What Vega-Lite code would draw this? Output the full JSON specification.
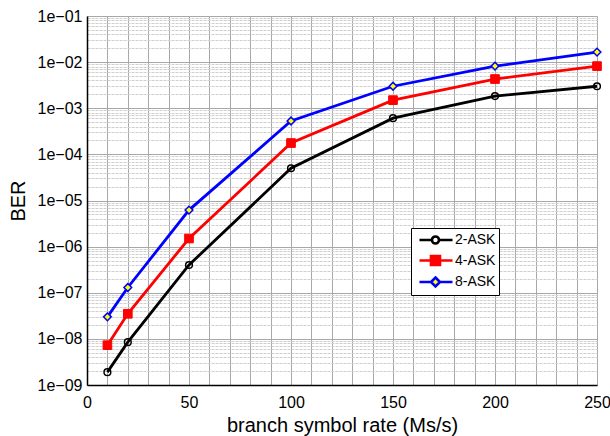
{
  "$schema": "https://vega.github.io/schema/vega-lite/v6.json",
  "width": 510,
  "height": 369,
  "autosize": {"type": "none"},
  "padding": {"left": 87, "top": 16, "right": 13, "bottom": 51},
  "background": "white",
  "config": {
    "font": "Liberation Sans",
    "view": {"stroke": null},
    "axis": {"labelFont": "Liberation Sans", "titleFont": "Liberation Sans", "labelColor": "black", "titleColor": "black", "titleFontWeight": "normal", "domainColor": "black", "domainWidth": 1.5, "ticks": false, "labelFlush": false}
  },
  "data": {
    "values": [
      {"rate": 10, "ber": 1.9e-9, "mod": "2-ASK"},
      {"rate": 20, "ber": 8.5e-9, "mod": "2-ASK"},
      {"rate": 50, "ber": 4.0e-7, "mod": "2-ASK"},
      {"rate": 100, "ber": 5.0e-5, "mod": "2-ASK"},
      {"rate": 150, "ber": 6.1e-4, "mod": "2-ASK"},
      {"rate": 200, "ber": 1.84e-3, "mod": "2-ASK"},
      {"rate": 250, "ber": 3.0e-3, "mod": "2-ASK"},
      {"rate": 10, "ber": 7.3e-9, "mod": "4-ASK"},
      {"rate": 20, "ber": 3.5e-8, "mod": "4-ASK"},
      {"rate": 50, "ber": 1.5e-6, "mod": "4-ASK"},
      {"rate": 100, "ber": 1.76e-4, "mod": "4-ASK"},
      {"rate": 150, "ber": 1.5e-3, "mod": "4-ASK"},
      {"rate": 200, "ber": 4.3e-3, "mod": "4-ASK"},
      {"rate": 250, "ber": 8.2e-3, "mod": "4-ASK"},
      {"rate": 10, "ber": 3.0e-8, "mod": "8-ASK"},
      {"rate": 20, "ber": 1.3e-7, "mod": "8-ASK"},
      {"rate": 50, "ber": 6.2e-6, "mod": "8-ASK"},
      {"rate": 100, "ber": 5.3e-4, "mod": "8-ASK"},
      {"rate": 150, "ber": 3.0e-3, "mod": "8-ASK"},
      {"rate": 200, "ber": 8.2e-3, "mod": "8-ASK"},
      {"rate": 250, "ber": 1.65e-2, "mod": "8-ASK"}
    ]
  },
  "encoding": {
    "x": {
      "field": "rate", "type": "quantitative",
      "scale": {"domain": [0, 250], "nice": false, "zero": false},
      "axis": {
        "title": "branch symbol rate (Ms/s)",
        "titleFontSize": 20, "titlePadding": 5,
        "labelFontSize": 16, "labelPadding": 9,
        "values": [0,10,20,30,40,50,60,70,80,90,100,110,120,130,140,150,160,170,180,190,200,210,220,230,240,250],
        "labelExpr": "datum.value % 50 == 0 ? datum.label : ''",
        "gridColor": "#a8a8a8", "gridWidth": 1,
        "labelOverlap": false
      }
    },
    "y": {
      "field": "ber", "type": "quantitative",
      "scale": {"type": "log", "domain": [1e-9, 1e-1], "nice": false},
      "axis": {
        "title": "BER",
        "titleFontSize": 20, "titlePadding": 9,
        "labelFontSize": 16, "labelPadding": 5,
        "values": [1e-9,2e-9,3e-9,4e-9,5e-9,6e-9,7e-9,8e-9,9e-9,1e-8,2e-8,3e-8,4e-8,5e-8,6e-8,7e-8,8e-8,9e-8,1e-7,2e-7,3e-7,4e-7,5e-7,6e-7,7e-7,8e-7,9e-7,1e-6,2e-6,3e-6,4e-6,5e-6,6e-6,7e-6,8e-6,9e-6,1e-5,2e-5,3e-5,4e-5,5e-5,6e-5,7e-5,8e-5,9e-5,1e-4,2e-4,3e-4,4e-4,5e-4,6e-4,7e-4,8e-4,9e-4,1e-3,2e-3,3e-3,4e-3,5e-3,6e-3,7e-3,8e-3,9e-3,1e-2,2e-2,3e-2,4e-2,5e-2,6e-2,7e-2,8e-2,9e-2,1e-1],
        "labelExpr": "abs(log(datum.value)/LN10 - round(log(datum.value)/LN10)) < 1e-6 ? '1e\u22120' + abs(round(log(datum.value)/LN10)) : ''",
        "labelOverlap": false,
        "gridColor": {"condition": {"test": "abs(log(datum.value)/LN10 - round(log(datum.value)/LN10)) < 1e-6", "value": "#a8a8a8"}, "value": "#cfcfcf"},
        "gridDash": {"condition": {"test": "abs(log(datum.value)/LN10 - round(log(datum.value)/LN10)) < 1e-6", "value": []}, "value": [3, 1]},
        "gridWidth": 1
      }
    }
  },
  "layer": [
    {
      "mark": {"type": "line", "strokeWidth": 2.8},
      "encoding": {
        "color": {
          "field": "mod", "type": "nominal",
          "scale": {"domain": ["2-ASK", "4-ASK", "8-ASK"], "range": ["black", "#ff0000", "#0000ff"]},
          "legend": {
            "title": null,
            "orient": "none", "legendX": 324, "legendY": 212,
            "strokeColor": "black", "fillColor": "white",
            "padding": 3,
            "symbolOffset": 4,
            "labelFontSize": 14, "labelColor": "black", "labelFont": "Liberation Sans",
            "labelOffset": 19,
            "rowPadding": 1.5,
            "symbolSize": 225,
            "symbolStrokeWidth": 2.6,
            "encode": {
              "symbols": {
                "update": {
                  "shape": {"signal": "datum.value == '2-ASK' ? 'M-1,0H0.66M1.6,0H3.4M1.6,0A0.47,0.47 0 1 1 0.66,0A0.47,0.47 0 1 1 1.6,0' : datum.value == '4-ASK' ? 'M-1,0H3.4M0.53,-0.6H1.73V0.6H0.53Z' : 'M-1,0H0.53M1.73,0H3.4M1.13,-0.6L1.73,0L1.13,0.6L0.53,0Z'"},
                  "fill": {"signal": "datum.value == '2-ASK' ? 'transparent' : datum.value == '4-ASK' ? '#ff0000' : '#ffff00'"},
                  "fillOpacity": {"value": 1},
                  "strokeWidth": {"value": 2.6}
                }
              }
            }
          }
        }
      }
    },
    {
      "transform": [{"filter": "datum.mod == '2-ASK'"}],
      "mark": {"type": "point", "shape": "circle", "filled": false, "stroke": "black", "fill": "transparent", "opacity": 1, "strokeWidth": 1.5, "size": 45}
    },
    {
      "transform": [{"filter": "datum.mod == '4-ASK'"}],
      "mark": {"type": "point", "shape": "square", "filled": true, "fill": "#ff0000", "stroke": "#ff0000", "opacity": 1, "strokeWidth": 1, "size": 75}
    },
    {
      "transform": [{"filter": "datum.mod == '8-ASK'"}],
      "mark": {"type": "point", "shape": "diamond", "filled": true, "fill": "#ffff00", "stroke": "#0000ff", "opacity": 1, "strokeWidth": 1.5, "size": 60}
    }
  ]
}
